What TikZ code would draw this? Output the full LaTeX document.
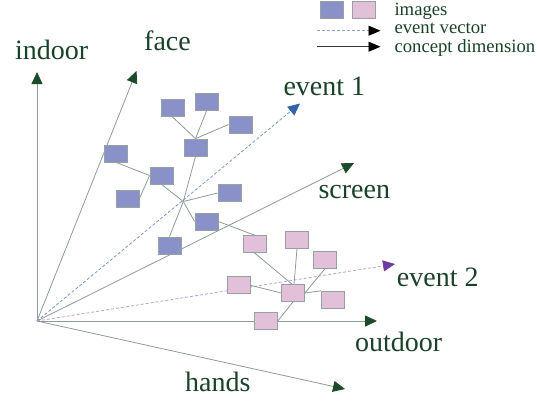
\documentclass[tikz,border=0pt]{standalone}
\usepackage{fontspec}
\setmainfont{Liberation Serif}
\usetikzlibrary{arrows.meta}
\definecolor{axisgray}{RGB}{140,156,150}
\definecolor{tipgreen}{RGB}{30,74,44}
\definecolor{labelgreen}{RGB}{26,66,40}
\definecolor{bluefill}{RGB}{138,144,200}
\definecolor{pinkfill}{RGB}{226,192,218}
\definecolor{boxedge}{RGB}{150,162,160}
\definecolor{evblue}{RGB}{120,150,210}
\definecolor{evbluetip}{RGB}{50,100,170}
\definecolor{evpurple}{RGB}{185,160,215}
\definecolor{evpurpletip}{RGB}{110,60,160}
\definecolor{legdash}{RGB}{150,160,178}
\tikzset{
  axisline/.style={draw=axisgray, line width=0.8pt,
    -{Triangle[length=12pt,width=11pt,color=tipgreen]}},
  eventline/.style={line width=0.8pt, dash pattern=on 3pt off 2pt},
  link/.style={draw=axisgray, line width=0.8pt},
  imgbox/.style={draw=boxedge, line width=0.8pt, minimum width=23pt,
    minimum height=17pt, inner sep=0pt},
  bluebox/.style={imgbox, fill=bluefill},
  pinkbox/.style={imgbox, fill=pinkfill},
  axislabel/.style={anchor=base west, inner sep=0pt, text=labelgreen,
    font=\fontsize{28}{30}\selectfont},
  leglabel/.style={anchor=base west, inner sep=0pt, text=labelgreen,
    font=\fontsize{18.7}{20}\selectfont}
}
\begin{document}
\begin{tikzpicture}[x=1pt, y=-1pt]
\useasboundingbox (0,0) rectangle (537,402);

% origin and axis end points
\coordinate (o) at (37,321);
\coordinate (tindoor) at (37,72);
\coordinate (tface) at (136.5,71);
\coordinate (tev1) at (300,103.5);
\coordinate (tscreen) at (354,163);
\coordinate (tev2) at (395,264);
\coordinate (toutdoor) at (377,321);
\coordinate (thands) at (345,389);

% concept dimensions
\draw[axisline] (o) -- (tindoor);
\draw[axisline] (o) -- (tface);
\draw[axisline] (o) -- (tscreen);
\draw[axisline] (o) -- (toutdoor);
\draw[axisline] (o) -- (thands);

% event vectors
\draw[eventline, draw=evblue, -{Triangle[length=12pt,width=11pt,color=evbluetip]}] (o) -- (tev1);
\draw[eventline, draw=evpurple, -{Triangle[length=12pt,width=11pt,color=evpurpletip]}] (o) -- (tev2);

% axis labels
\node[axislabel] (lindoor) at (15,59.3) {indoor};
\node[axislabel] (lface) at (144,50) {face};
\node[axislabel] (lev1) at (283.3,95) {event 1};
\node[axislabel] (lscreen) at (318.3,198.5) {screen};
\node[axislabel] (lev2) at (396.7,286) {event 2};
\node[axislabel] (loutdoor) at (355,351.7) {outdoor};
\node[axislabel] (lhands) at (185,391.7) {hands};

% images of event 1
\node[bluebox] (b1) at (172.5,108) {};
\node[bluebox] (b2) at (206.5,102) {};
\node[bluebox] (b3) at (240.5,124.5) {};
\node[bluebox] (b4) at (195.5,147.5) {};
\node[bluebox] (b5) at (116,153.5) {};
\node[bluebox] (b6) at (161.5,175.5) {};
\node[bluebox] (b7) at (127.5,198.5) {};
\node[bluebox] (b8) at (229.5,193) {};
\node[bluebox] (b9) at (206.5,221.5) {};
\node[bluebox] (b10) at (169.5,245.5) {};

% images of event 2
\node[pinkbox] (p1) at (254.5,244) {};
\node[pinkbox] (p2) at (297,239.7) {};
\node[pinkbox] (p3) at (325,259.7) {};
\node[pinkbox] (p4) at (238.7,285.3) {};
\node[pinkbox] (p5) at (293,293) {};
\node[pinkbox] (p6) at (332.8,299.7) {};
\node[pinkbox] (p7) at (266,320.8) {};

% links between images
\coordinate (j) at (183.3,201.5);
\draw[link] (b1.south) -- (b4.north);
\draw[link] (b2.south) -- (b4.north);
\draw[link] (b3.west) -- (b4.north);
\draw[link] (b5.south) -- (b6.west);
\draw[link] (b7.east) -- (b6.west);
\draw[link] (b6.south) -- (j);
\draw[link] (j) -- (b4.south);
\draw[link] (j) -- (b8.west);
\draw[link] (j) -- (b9.west);
\draw[link] (j) -- (b10.north);
\draw[link] (b9.east) -- (p1.north);
\draw[link] (p1.south) -- ([xshift=-1pt]p5.north);
\draw[link] (p2.south) -- ([xshift=1pt]p5.north);
\draw[link] (p3.south) -- (p5.east);
\draw[link] (p4.east) -- (p5.west);
\draw[link] (p6.north west) -- (p5.east);
\draw[link] (p7.east) -- (p5.south);

% legend
\node[bluebox] (lgb) at (332,9.5) {};
\node[pinkbox] (lgp) at (363.7,9.5) {};
\coordinate (ld1) at (316.7,30.7);
\coordinate (ld2) at (380.5,30.7);
\coordinate (ls1) at (316.7,46.7);
\coordinate (ls2) at (380.5,46.7);
\draw[eventline, draw=legdash, -{Triangle[length=12pt,width=10pt,color=black]}] (ld1) -- (ld2);
\draw[line width=0.8pt, draw=black!80, -{Triangle[length=12pt,width=10pt,color=black]}] (ls1) -- (ls2);
\node[leglabel] (limg) at (394.3,15) {images};
\node[leglabel] (lev) at (394.3,33) {event vector};
\node[leglabel] (lcd) at (394.3,52) {concept dimension};
\end{tikzpicture}
\end{document}
